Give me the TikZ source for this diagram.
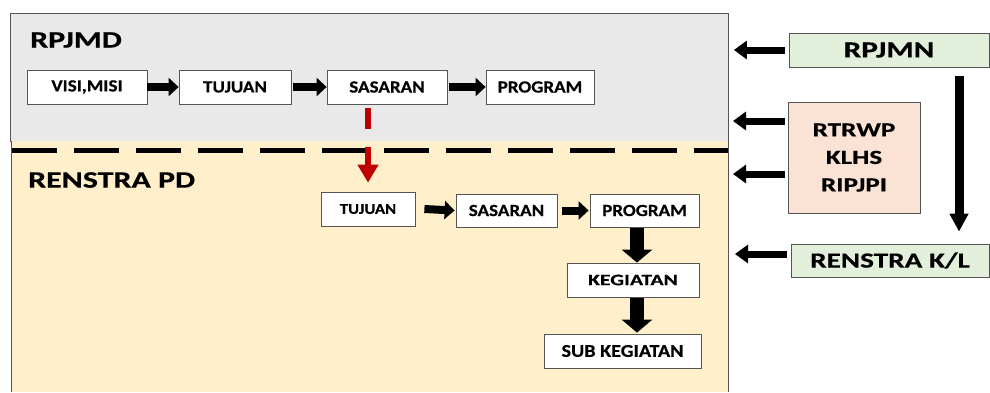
\documentclass[tikz,border=0pt]{standalone}
\usepackage{fontspec}
\setmainfont{Carlito}
\newfontfamily\titlefont{Carlito}[FakeStretch=1.36,FakeBold=0.5]
\newfontfamily\boxfont{Carlito}[FakeStretch=1.12,FakeBold=0.4]
\usetikzlibrary{arrows.meta,calc}
\definecolor{grayfill}{HTML}{E9E9E9}
\definecolor{beigefill}{HTML}{FFEFCB}
\definecolor{greenfill}{HTML}{E2EFDA}
\definecolor{peachfill}{HTML}{FAE2D5}
\definecolor{edgegray}{HTML}{555555}
\definecolor{redarrow}{HTML}{C00000}
\tikzset{
  box/.style={draw=edgegray, line width=0.8pt, fill=white, minimum height=34, inner sep=0pt,
    font=\boxfont\bfseries\fontsize{17}{20}\selectfont},
  sidebox/.style={draw=edgegray, line width=0.8pt, inner sep=0pt,
    font=\titlefont\bfseries\fontsize{23}{27}\selectfont},
  harrow/.style={line width=8pt, -{Triangle[length=10pt,width=18pt]}},
  varrow/.style={line width=14pt, -{Triangle[length=13pt,width=30pt]}},
  sidearrow/.style={line width=7pt, -{Triangle[length=13pt,width=18pt]}},
  longarrow/.style={line width=9pt, -{Triangle[length=18pt,width=18pt]}},
  redlink/.style={redarrow, line width=6pt, dash pattern=on 21pt off 18pt on 200pt, -{Triangle[length=18pt,width=20pt]}},
  titletext/.style={anchor=west, inner sep=0pt, font=\titlefont\bfseries\fontsize{23.5}{27}\selectfont}
}
\begin{document}
\begin{tikzpicture}[x=1pt,y=-1pt]
\useasboundingbox (0,0) rectangle (990,392);
% background panels
\node[draw=edgegray, fill=grayfill, line width=0.9pt, minimum width=718, minimum height=128, inner sep=0pt, anchor=north west] (rpjmdbox) at (10,13) {};
\fill[beigefill] (11,141) rectangle (728,392);
\draw[edgegray, line width=0.9pt] (11,141) -- (11,392) (728,141) -- (728,392);
\coordinate (dashL) at (12,150);
\coordinate (dashR) at (728,150);
\draw[black, line width=5pt, dash pattern=on 45pt off 17pt] (dashL) -- (dashR);
% titles
\node[titletext] (t1) at (30,40) {RPJMD};
\node[titletext] (t2) at (28,180) {RENSTRA PD};
% row 1
\node[box, minimum width=120] (visi) at (87,87) {VISI,MISI};
\node[box, minimum width=112] (tuj1) at (235,87) {TUJUAN};
\node[box, minimum width=120] (sas1) at (387,87) {SASARAN};
\node[box, minimum width=108] (prog1) at (540,87) {PROGRAM};
\draw[harrow] (visi.east) -- (tuj1.west);
\draw[harrow] ([xshift=2]tuj1.east) -- (sas1.west);
\draw[harrow] ([xshift=2]sas1.east) -- (prog1.west);
% row 2
\node[box, minimum width=94, font=\boxfont\bfseries\fontsize{15}{18}\selectfont] (tuj2) at (368,209) {TUJUAN};
\node[box, minimum width=101, minimum height=33] (sas2) at (506.5,210.5) {SASARAN};
\node[box, minimum width=109, minimum height=33] (prog2) at (644.5,210.5) {PROGRAM};
\node[box, minimum width=132, font=\titlefont\bfseries\fontsize{16}{19}\selectfont] (keg) at (633,280) {KEGIATAN};
\node[box, minimum width=157, font=\boxfont\bfseries\fontsize{18}{21}\selectfont] (subkeg) at (622.5,351) {SUB KEGIATAN};
\draw[harrow] ([xshift=9]tuj2.east) -- ([xshift=-1]sas2.west);
\draw[harrow] ([xshift=5]sas2.east) -- ([xshift=-1]prog2.west);
\draw[varrow] ([xshift=-7.5,yshift=-1]prog2.south) -- ([xshift=-7.5]prog2.south |- keg.north);
\draw[varrow] ([yshift=-1]keg.south -| 637,0) -- ([yshift=1]subkeg.north -| 637,0);
% red link
\draw[redlink] ([xshift=-19,yshift=-4]sas1.south) -- ([yshift=9]tuj2.north);
% right side
\node[sidebox, fill=greenfill, minimum width=200, minimum height=34] (rpjmn) at (889,50) {RPJMN};
\node[sidebox, fill=peachfill, minimum width=132, minimum height=111, align=center,
  font=\titlefont\bfseries\fontsize{20}{27.5}\selectfont] (rtr) at (854,157.5) {RTRWP\\KLHS\\RIPJPI};
\node[sidebox, fill=greenfill, minimum width=198, minimum height=33,
  font=\titlefont\bfseries\fontsize{21.5}{25}\selectfont] (renkl) at (890,260.5) {RENSTRA K/L};
\coordinate (a1) at ([xshift=5]rpjmdbox.east |- rpjmn);
\coordinate (a2) at (733,121);
\coordinate (a3) at (733,174);
\coordinate (a4) at (735,254);
\draw[sidearrow] ([xshift=-4]rpjmn.west) -- (a1);
\draw[sidearrow] ([xshift=-3]rtr.west |- a2) -- (a2);
\draw[sidearrow] ([xshift=-3]rtr.west |- a3) -- (a3);
\draw[sidearrow] ([xshift=-4]renkl.west |- a4) -- (a4);
\draw[longarrow] ([yshift=-9]rpjmn.south -| 959,0) -- ([yshift=12]renkl.north -| 959,0);
\end{tikzpicture}
\end{document}
